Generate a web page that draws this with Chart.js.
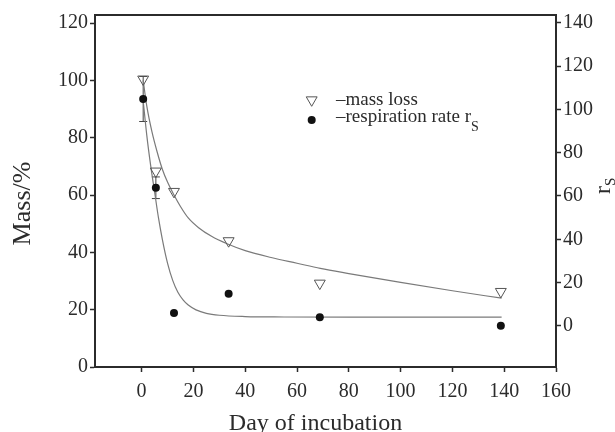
<!DOCTYPE html>
<html>
<head>
<meta charset="utf-8">
<script src="https://cdn.jsdelivr.net/npm/chart.js@4.4.0/dist/chart.umd.min.js"></script>
<style>
    body { margin: 0; background: #fff; }
    #wrap { width: 615px; height: 432px; position: relative; }
</style>
</head>
<body>
<div id="wrap"><canvas id="chart"></canvas></div>
<script>
// Measured points
const days = [0.6, 5.5, 12.5, 33.6, 68.8, 138.7];
const massLoss = [100.4, 68.3, 61.2, 44.0, 29.2, 26.3];
const respRate = [104.8, 63.8, 5.9, 14.8, 4.0, 0.0];
const respErr = [10.4, 5.0, 0, 0, 0, 0];

// Fitted curves
const massFitDays = [0.6, 2, 4, 6, 8, 10, 12.5, 15, 18, 22, 27, 33, 40, 50, 60, 69, 80, 100, 120, 139];
const massFit = [100, 91, 82, 75, 69, 64.5, 60, 56, 52, 48.6, 45.6, 43, 40.6, 38.2, 36.2, 34.4, 32.6, 29.5, 26.6, 24];
const respFitDays = [0.6, 2, 3.5, 5, 6.5, 8, 10, 12, 14, 16, 18, 21, 25, 30, 40, 55, 80, 139];
const respFit = [104, 88, 74, 62, 50, 40, 29, 21, 15.5, 12, 9.6, 7.4, 5.8, 4.9, 4.3, 4.1, 4, 4];

// Tick labels
const xTicks = [0, 20, 40, 60, 80, 100, 120, 140, 160];
const massTicks = [0, 20, 40, 60, 80, 100, 120];
const rsTicks = [0, 20, 40, 60, 80, 100, 120, 140];

const INK = '#2b2b2b';
const SERIF = "'Liberation Serif', 'Times New Roman', serif";

function toPoints(xs, ys) {
    return xs.map((x, i) => ({ x: x, y: ys[i] }));
}

// error bars on the respiration points
const errorBars = {
    id: 'errorBars',
    beforeDatasetsDraw(chart) {
        const ctx = chart.ctx;
        const xs = chart.scales.x, ys = chart.scales.y1;
        ctx.save();
        ctx.strokeStyle = '#444';
        ctx.lineWidth = 1;
        days.forEach((d, i) => {
            if (!respErr[i]) return;
            const px = xs.getPixelForValue(d);
            const top = ys.getPixelForValue(respRate[i] + respErr[i]);
            const bot = ys.getPixelForValue(respRate[i] - respErr[i]);
            ctx.beginPath();
            ctx.moveTo(px, top); ctx.lineTo(px, bot);
            ctx.moveTo(px - 4, top); ctx.lineTo(px + 4, top);
            ctx.moveTo(px - 4, bot); ctx.lineTo(px + 4, bot);
            ctx.stroke();
        });
        ctx.restore();
    }
};

// top frame line, axis titles and the legend
const decorations = {
    id: 'decorations',
    afterDraw(chart) {
        const ctx = chart.ctx;
        const area = chart.chartArea;
        ctx.save();
        ctx.strokeStyle = INK;
        ctx.lineWidth = 2;
        ctx.beginPath();
        ctx.moveTo(area.left - 1, area.top);
        ctx.lineTo(area.right + 1, area.top);
        ctx.stroke();

        ctx.fillStyle = INK;
        ctx.textBaseline = 'alphabetic';

        // x title
        ctx.font = '24px ' + SERIF;
        ctx.textAlign = 'center';
        ctx.fillText('Day of incubation', 315.5, 430);

        // left title
        ctx.save();
        ctx.translate(30, 203.5);
        ctx.rotate(-Math.PI / 2);
        ctx.font = '26px ' + SERIF;
        ctx.fillText('Mass/%', 0, 0);
        ctx.restore();

        // right title r_S
        ctx.save();
        ctx.translate(610, 194);
        ctx.rotate(-Math.PI / 2);
        ctx.textAlign = 'left';
        ctx.font = '24px ' + SERIF;
        ctx.fillText('r', 0, 0);
        const rw = ctx.measureText('r').width;
        ctx.font = '15px ' + SERIF;
        ctx.fillText('S', rw, 5);
        ctx.restore();

        // legend
        const lx = 311.7;
        ctx.strokeStyle = '#555';
        ctx.lineWidth = 1;
        ctx.fillStyle = 'rgba(0,0,0,0)';
        Chart.helpers.drawPoint(ctx, { pointStyle: 'triangle', radius: 6.3, rotation: 180, borderWidth: 1 }, lx, 100);
        ctx.fillStyle = '#111';
        Chart.helpers.drawPoint(ctx, { pointStyle: 'circle', radius: 4, rotation: 0, borderWidth: 0 }, lx, 120);
        ctx.fillStyle = INK;
        ctx.textAlign = 'left';
        ctx.font = '19px ' + SERIF;
        ctx.fillText('\u2013mass loss', 336, 105);
        const label = '\u2013respiration rate r';
        ctx.fillText(label, 336, 122);
        const lw = ctx.measureText(label).width;
        ctx.font = '14px ' + SERIF;
        ctx.fillText('S', 336 + lw, 131);
        ctx.restore();
    }
};

function axisStyle(ticks, side) {
    return {
        afterBuildTicks: s => { s.ticks = ticks.map(v => ({ value: v })); },
        grid: { display: true, drawOnChartArea: false, drawTicks: true, tickLength: 5, tickColor: INK, tickWidth: 1.5 },
        border: { display: true, color: INK, width: 2 },
        ticks: { color: INK, padding: side === 'x' ? 8 : 2, font: { family: SERIF, size: 20 } }
    };
}

new Chart(document.getElementById('chart'), {
    type: 'scatter',
    data: {
        datasets: [
            {
                label: 'mass loss',
                data: toPoints(days, massLoss),
                yAxisID: 'y',
                pointStyle: 'triangle',
                rotation: 180,
                pointRadius: 6.3,
                borderColor: '#555',
                borderWidth: 1,
                backgroundColor: 'rgba(0,0,0,0)'
            },
            {
                label: 'respiration rate rS',
                data: toPoints(days, respRate),
                yAxisID: 'y1',
                pointStyle: 'circle',
                pointRadius: 4,
                borderWidth: 0,
                backgroundColor: '#111'
            },
            {
                label: 'mass fit',
                data: toPoints(massFitDays, massFit),
                yAxisID: 'y',
                showLine: true,
                pointRadius: 0,
                borderColor: '#7a7a7a',
                borderWidth: 1.2,
                cubicInterpolationMode: 'monotone'
            },
            {
                label: 'respiration fit',
                data: toPoints(respFitDays, respFit),
                yAxisID: 'y1',
                showLine: true,
                pointRadius: 0,
                borderColor: '#7a7a7a',
                borderWidth: 1.2,
                cubicInterpolationMode: 'monotone'
            }
        ]
    },
    options: {
        responsive: true,
        maintainAspectRatio: false,
        animation: false,
        layout: { padding: { top: 15, left: 0, right: 0, bottom: 0 } },
        plugins: { legend: { display: false }, tooltip: { enabled: false } },
        scales: {
            x: Object.assign(axisStyle(xTicks, 'x'), {
                type: 'linear', position: 'bottom', min: -18, max: 160,
                afterFit: s => { s.height = 65; }
            }),
            y: Object.assign(axisStyle(massTicks, 'y'), {
                type: 'linear', position: 'left', min: 0, max: 122.8,
                afterFit: s => { s.width = 95; }
            }),
            y1: Object.assign(axisStyle(rsTicks, 'y1'), {
                type: 'linear', position: 'right', min: -19, max: 143.6,
                afterFit: s => { s.width = 59; }
            })
        }
    },
    plugins: [errorBars, decorations]
});
</script>
</body>
</html>
